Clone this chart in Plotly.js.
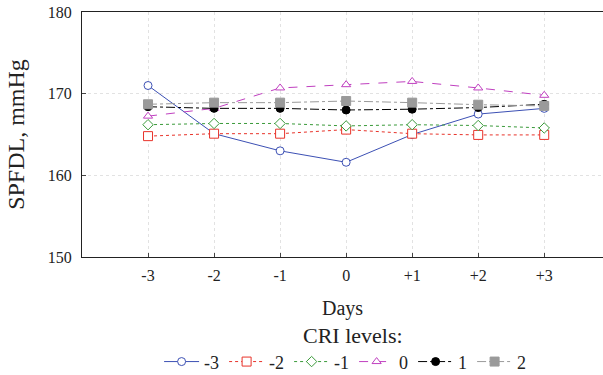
<!DOCTYPE html>
<html><head><meta charset="utf-8">
<script src="https://cdn.plot.ly/plotly-3.0.1.min.js"></script>
<style>html,body{margin:0;padding:0;background:#fff}#chart{width:603px;height:375px}</style>
</head><body><div id="chart"></div>
<script>
const days = [-3, -2, -1, 0, 1, 2, 3];
const dayLabels = ["-3", "-2", "-1", "0", "+1", "+2", "+3"];
const seriesNames = ["-3", "-2", "-1", "0", "1", "2"];
const criM3 = [171.0, 165.1, 163.0, 161.6, 165.0, 167.5, 168.2];
const criM2 = [164.8, 165.1, 165.1, 165.6, 165.1, 164.95, 164.95];
const criM1 = [166.2, 166.35, 166.35, 166.05, 166.2, 166.1, 165.8];
const cri0 = [167.25, 168.2, 170.7, 171.1, 171.5, 170.7, 169.8];
const cri1 = [168.4, 168.2, 168.2, 168.0, 168.1, 168.3, 168.7];
const cri2 = [168.7, 168.9, 168.9, 169.1, 168.9, 168.65, 168.5];

const F = "Liberation Serif";
function tr(y, name, color, dash, symbol, size, fill) {
  return {x: days, y: y, name: name, type: 'scatter', mode: 'lines+markers',
    line: {color: color, width: 1, dash: dash},
    marker: {symbol: symbol, size: size, color: fill, line: {color: color, width: 1}}};
}
const data = [
  tr(criM3, seriesNames[0], '#3c50b4', 'solid', 'circle', 8, '#fff'),
  tr(criM2, seriesNames[1], '#e8332a', 'dot', 'square', 9, '#fff'),
  tr(criM1, seriesNames[2], '#3a9a3a', 'dot', 'diamond', 8, '#fff'),
  tr(cri0, seriesNames[3], '#c040c0', 'dash', 'triangle-up', 8, '#fff'),
  tr(cri1, seriesNames[4], '#000000', 'dashdot', 'circle', 8, '#000'),
  tr(cri2, seriesNames[5], '#9a9a9a', 'dashdot', 'square', 9, '#9a9a9a')
];
const layout = {
  width: 603, height: 375,
  margin: {l: 82, r: 0, t: 12, b: 118, autoexpand: false},
  paper_bgcolor: '#fff', plot_bgcolor: '#fff',
  font: {family: F, color: '#222', size: 16},
  showlegend: true,
  legend: {orientation: 'h', x: 0.505, xanchor: 'center', yref: 'container', y: 0.035, yanchor: 'middle',
    font: {family: F, size: 18, color: '#222'}, itemwidth: 35, traceorder: 'normal'},
  xaxis: {range: [-4, 3.89], tickvals: days, ticktext: dayLabels, automargin: false,
    showline: true, linecolor: '#222', linewidth: 1, mirror: true,
    ticks: 'inside', ticklen: 4, tickcolor: '#444', ticklabelstandoff: 4,
    showgrid: true, gridcolor: '#e2e2e2', griddash: 'dot', zeroline: false,
    tickfont: {family: F, size: 16, color: '#222'},
    title: {text: 'Days', font: {family: F, size: 20, color: '#222'}, standoff: 17}},
  yaxis: {range: [150, 180], tickvals: [150, 160, 170, 180], automargin: false,
    showline: true, linecolor: '#222', linewidth: 1,
    ticks: 'inside', ticklen: 4, tickcolor: '#444', ticklabelstandoff: 6,
    showgrid: true, gridcolor: '#e2e2e2', griddash: 'dot', zeroline: false,
    tickfont: {family: F, size: 16, color: '#222'},
    title: {text: 'SPFDL, mmHg', font: {family: F, size: 24, color: '#222'}, standoff: 16}},
  annotations: [{text: 'CRI levels:', xref: 'paper', yref: 'paper', x: 0.52, y: -0.262,
    xanchor: 'center', yanchor: 'top', showarrow: false,
    font: {family: F, size: 22, color: '#222'}}]
};
Plotly.newPlot('chart', data, layout, {displayModeBar: false, staticPlot: true});
</script></body></html>
